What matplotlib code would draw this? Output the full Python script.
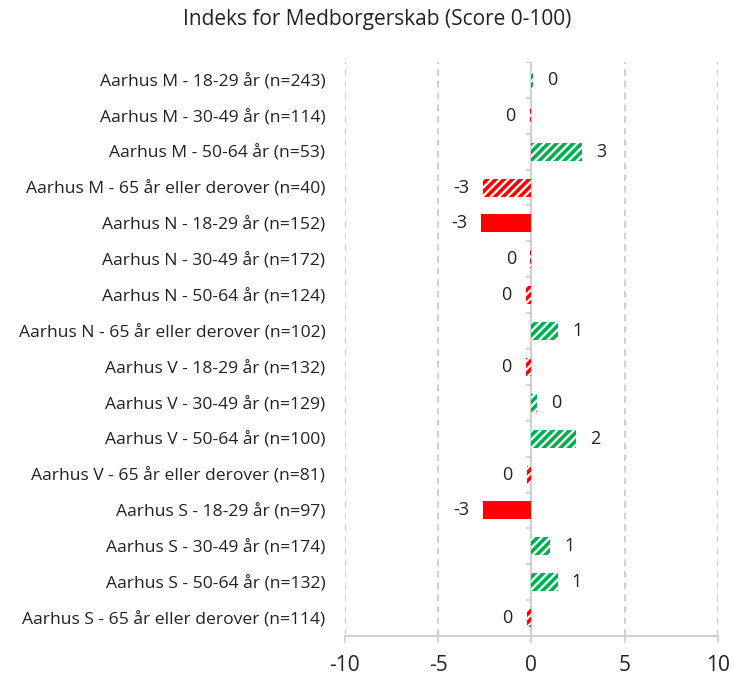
import matplotlib.pyplot as plt
import numpy as np

plt.rcParams['font.family'] = ['Open Sans', 'DejaVu Sans']
plt.rcParams['hatch.linewidth'] = 2.6

categories = [
    "Aarhus M - 18-29 år (n=243)",
    "Aarhus M - 30-49 år (n=114)",
    "Aarhus M - 50-64 år (n=53)",
    "Aarhus M - 65 år eller derover (n=40)",
    "Aarhus N - 18-29 år (n=152)",
    "Aarhus N - 30-49 år (n=172)",
    "Aarhus N - 50-64 år (n=124)",
    "Aarhus N - 65 år eller derover (n=102)",
    "Aarhus V - 18-29 år (n=132)",
    "Aarhus V - 30-49 år (n=129)",
    "Aarhus V - 50-64 år (n=100)",
    "Aarhus V - 65 år eller derover (n=81)",
    "Aarhus S - 18-29 år (n=97)",
    "Aarhus S - 30-49 år (n=174)",
    "Aarhus S - 50-64 år (n=132)",
    "Aarhus S - 65 år eller derover (n=114)",
]
values = [0.1, -0.1, 2.7, -2.6, -2.7, -0.05, -0.3, 1.45,
          -0.3, 0.3, 2.4, -0.25, -2.6, 1.0, 1.4, -0.25]
significant = [False, False, False, False, True, False, False, False,
               False, False, False, False, True, False, False, False]
xticks = [-10, -5, 0, 5, 10]

RED = '#FF0000'
GREEN = '#00B050'

fig = plt.figure(figsize=(7.32, 6.79), dpi=100)
ax = fig.add_axes([0.471, 0.0633, 0.510, 0.8454])

y = np.arange(len(categories))
for yi, v, sig in zip(y, values, significant):
    col = GREEN if v >= 0 else RED
    if sig:
        ax.barh(yi, v, height=0.5, color=col, linewidth=0, zorder=3)
    else:
        ax.barh(yi, v, height=0.5, facecolor='white', edgecolor=col,
                hatch='////', linewidth=0, zorder=3)
    lab = str(int(round(v)))
    if v >= 0:
        ax.text(v + 0.75, yi, lab, ha='left', va='center', fontsize=13, color='#222222')
    else:
        ax.text(v - 0.75, yi, lab, ha='right', va='center', fontsize=13, color='#222222')

ax.set_xlim(-10, 10)
ax.set_ylim(len(categories) - 0.5, -0.5)
ax.set_xticks(xticks)
ax.set_xticklabels([str(t) for t in xticks], fontsize=15, color='#222222')
ax.set_yticks(y)
ax.set_yticklabels(categories, fontsize=12.6, color='#222222')
ax.tick_params(axis='y', length=0, pad=14)
ax.tick_params(axis='x', length=5, width=1.2, color='#D0D0D0', pad=9)

for t in xticks:
    if t != 0:
        ax.axvline(t, color='#C8C8C8', linestyle=(0, (4, 3)), linewidth=1.2, zorder=1)
ax.axvline(0, color='#D0D0D0', linewidth=1.5, zorder=2)
bounds = np.arange(len(categories) + 1) - 0.5
ax.hlines(bounds, -0.3, 0, color='#D0D0D0', linewidth=1.5, zorder=2)

for s in ['top', 'right', 'left']:
    ax.spines[s].set_visible(False)
ax.spines['bottom'].set_color('#D0D0D0')
ax.spines['bottom'].set_linewidth(1.5)

fig.text(0.515, 0.972, "Indeks for Medborgerskab (Score 0-100)", ha='center', va='center',
         fontsize=15, color='#222222')

fig.savefig('out.png', dpi=100)
